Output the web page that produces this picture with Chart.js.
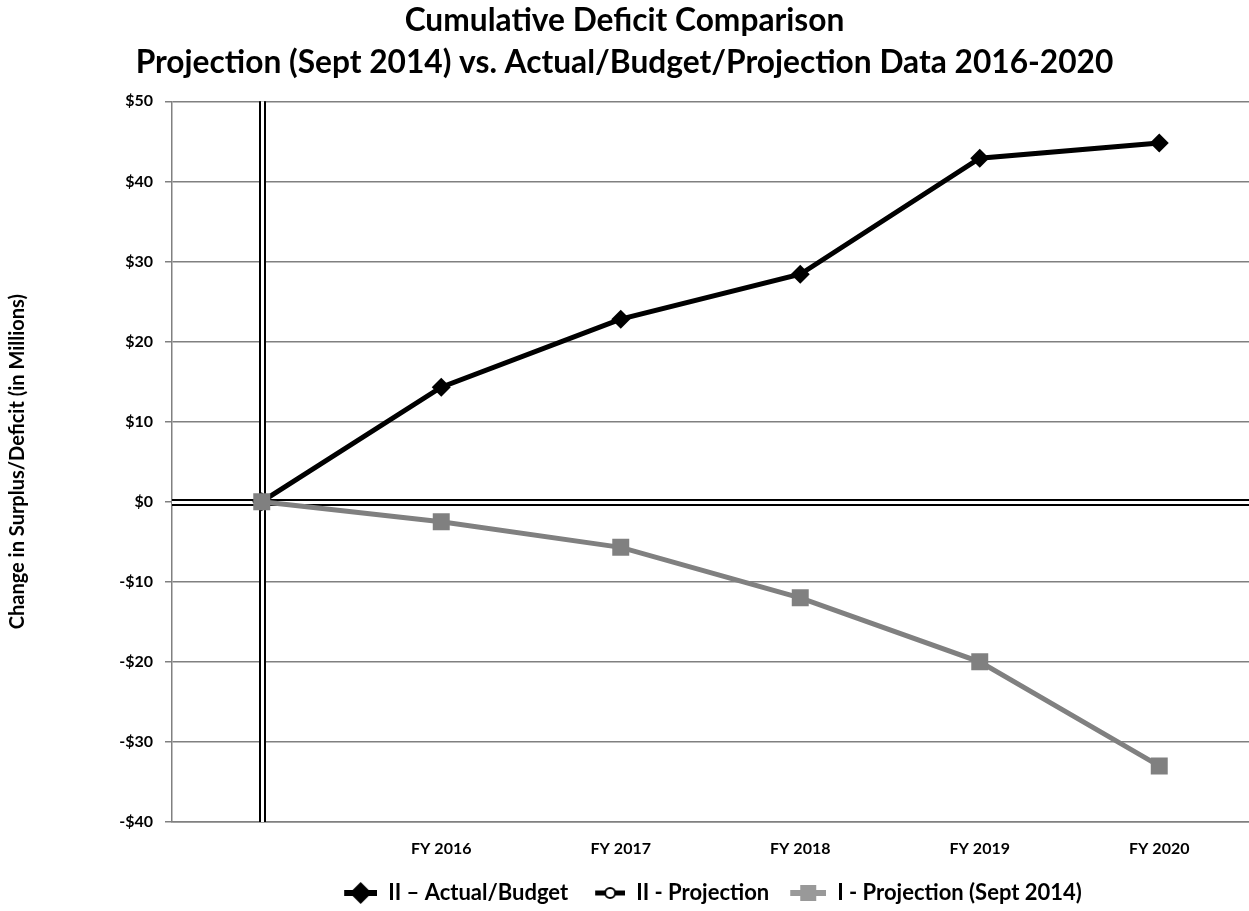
<!DOCTYPE html>
<html><head><meta charset="utf-8">
<script src="https://cdn.jsdelivr.net/npm/chart.js@4.4.1/dist/chart.umd.min.js"></script>
<style>html,body{margin:0;padding:0;background:#fff}</style>
</head><body>
<canvas id="c" width="1249" height="911"></canvas>
<script>
const categories = ['', 'FY 2016', 'FY 2017', 'FY 2018', 'FY 2019', 'FY 2020'];
const actualBudget = [0, 14.3, 22.8, 28.4, 42.9, 44.8];
const projectionII = [null, null, null, null, null, null];
const projectionSept2014 = [0, -2.5, -5.7, -12.0, -20.0, -33.0];
const seriesNames = ['II \u2013 Actual/Budget', 'II - Projection', 'I - Projection (Sept 2014)'];
const titleLines = ['Cumulative Deficit Comparison', 'Projection (Sept 2014) vs. Actual/Budget/Projection Data 2016-2020'];
const yAxisTitle = 'Change in Surplus/Deficit (in Millions)';
const yMin = -40, yMax = 50, yStep = 10;

const FONT = 'Lato, "Open Sans", sans-serif';
const GRAY = '#808080';
const LEG_W = 38;

function makeMarker(w, h, draw) {
  const c = document.createElement('canvas');
  c.width = w; c.height = h;
  draw(c.getContext('2d'), w, h);
  return c;
}
const legendImgs = [
  makeMarker(LEG_W, 24, (g, w, h) => {
    const x0 = w - 33, cx = x0 + 16.5;
    g.strokeStyle = '#000'; g.lineWidth = 6;
    g.beginPath(); g.moveTo(x0, h/2); g.lineTo(w, h/2); g.stroke();
    g.fillStyle = '#000'; g.beginPath();
    g.moveTo(cx, h/2-11); g.lineTo(cx+11, h/2); g.lineTo(cx, h/2+11); g.lineTo(cx-11, h/2); g.closePath(); g.fill();
  }),
  makeMarker(LEG_W, 16, (g, w, h) => {
    const x0 = w - 30, cx = x0 + 15;
    g.strokeStyle = '#000'; g.lineWidth = 5;
    g.beginPath(); g.moveTo(x0, h/2); g.lineTo(w, h/2); g.stroke();
    g.fillStyle = '#fff'; g.lineWidth = 2;
    g.beginPath(); g.arc(cx, h/2, 5, 0, Math.PI*2); g.fill(); g.stroke();
  }),
  makeMarker(LEG_W, 20, (g, w, h) => {
    const x0 = w - 36, cx = x0 + 18;
    g.strokeStyle = '#999'; g.lineWidth = 6;
    g.beginPath(); g.moveTo(x0, h/2); g.lineTo(w, h/2); g.stroke();
    g.fillStyle = '#999'; g.fillRect(cx-8, h/2-8, 16, 16);
  })
];

const doubleAxisLines = {
  id: 'doubleAxisLines',
  beforeDatasetsDraw(chart) {
    const {ctx, chartArea: a, scales: {x, y}} = chart;
    const x0 = Math.round(x.getPixelForValue(0)) + 0.5;
    const y0 = Math.round(y.getPixelForValue(0)) + 0.5;
    ctx.save();
    const dbl = (x1, y1, x2, y2) => {
      ctx.strokeStyle = '#000'; ctx.lineWidth = 7;
      ctx.beginPath(); ctx.moveTo(x1, y1); ctx.lineTo(x2, y2); ctx.stroke();
      ctx.strokeStyle = '#fff'; ctx.lineWidth = 3;
      ctx.beginPath(); ctx.moveTo(x1, y1); ctx.lineTo(x2, y2); ctx.stroke();
    };
    dbl(a.left, y0, a.right, y0);
    dbl(x0, a.top, x0, a.bottom);
    ctx.restore();
  }
};

new Chart(document.getElementById('c'), {
  type: 'line',
  data: {
    labels: categories,
    datasets: [
      { label: seriesNames[0], data: actualBudget, borderColor: '#000', backgroundColor: '#000',
        borderWidth: 5, pointStyle: 'rectRot', pointRadius: 9.5, pointHoverRadius: 9.5, pointBorderWidth: 0,
        tension: 0, order: 2 },
      { label: seriesNames[1], data: projectionII, borderColor: '#000', backgroundColor: '#fff',
        borderWidth: 5, pointStyle: 'circle', pointRadius: 5, pointBorderWidth: 2, tension: 0, order: 3 },
      { label: seriesNames[2], data: projectionSept2014, borderColor: GRAY, backgroundColor: GRAY,
        borderWidth: 5, pointStyle: 'rect', pointRadius: 12, pointHoverRadius: 12, pointBorderWidth: 0,
        tension: 0, order: 1 }
    ]
  },
  options: {
    responsive: false,
    animation: false,
    devicePixelRatio: 1,
    layout: { autoPadding: false, padding: { left: 0, right: 0, top: 0, bottom: -3 } },
    plugins: {
      tooltip: { enabled: false },
      title: {
        display: true, text: titleLines, color: '#000',
        font: { family: FONT, size: 31.7, weight: 'bold', lineHeight: 1.33 },
        padding: { top: 0, bottom: 17 }
      },
      legend: {
        position: 'bottom', fullSize: false,
        labels: {
          usePointStyle: true, pointStyleWidth: LEG_W, color: '#000', padding: 19,
          font: { family: FONT, size: 22, weight: 'bold' },
          sort: (a, b) => a.datasetIndex - b.datasetIndex,
          generateLabels: (chart) => {
            const items = Chart.defaults.plugins.legend.labels.generateLabels(chart);
            items.forEach(it => { it.pointStyle = legendImgs[it.datasetIndex]; });
            return items;
          }
        }
      }
    },
    scales: {
      x: {
        offset: true,
        afterFit: (s) => { s.height = 41; s.paddingLeft = 0; s.paddingRight = 0; },
        grid: { display: false, drawTicks: false },
        border: { display: true, color: GRAY, width: 1.5 },
        ticks: { color: '#000', padding: 17, font: { family: FONT, size: 16, weight: 'bold' }, maxRotation: 0 }
      },
      y: {
        min: yMin, max: yMax,
        afterFit: (s) => { s.width = 172; },
        ticks: {
          stepSize: yStep, color: '#000', padding: 12,
          font: { family: FONT, size: 16, weight: 'bold' },
          callback: (v) => (v < 0 ? '-$' + Math.abs(v) : '$' + v)
        },
        grid: { color: GRAY, lineWidth: 1.5, tickLength: 7, drawTicks: true },
        border: { display: true, color: GRAY, width: 1.5 },
        title: {
          display: true, text: yAxisTitle, color: '#000',
          font: { family: FONT, size: 20, weight: 'bold' },
          padding: { top: 6, bottom: 0 }
        }
      }
    }
  },
  plugins: [doubleAxisLines]
});
</script>
</body></html>
